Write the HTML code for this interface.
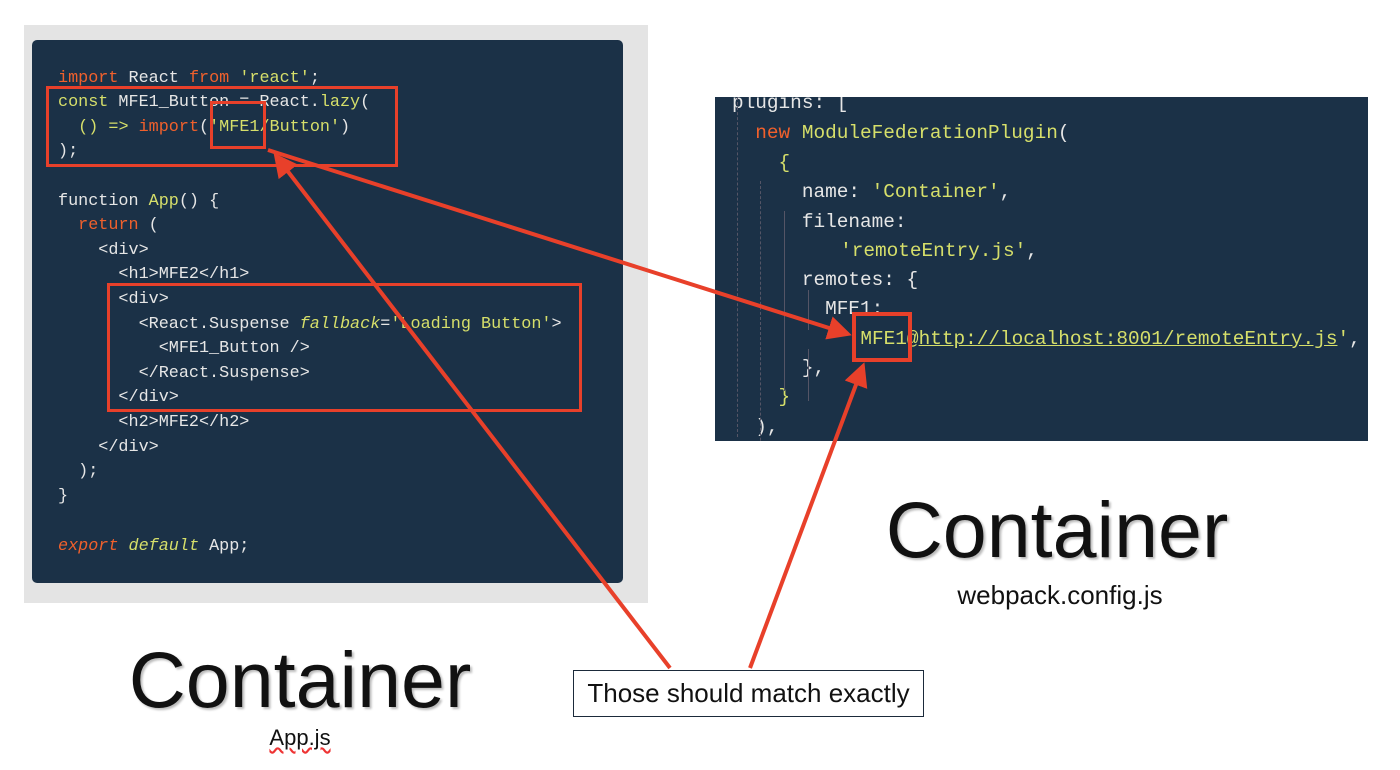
<!DOCTYPE html>
<html><head><meta charset="utf-8"><style>
body{margin:0;width:1400px;height:770px;background:#fff;position:relative;overflow:hidden;font-family:"Liberation Sans",sans-serif}
.code{position:absolute;font-family:"Liberation Mono",monospace;white-space:pre;color:#e6e6e6}
.code div{position:absolute;left:0}
.k{color:#f0602c}.s{color:#d6df6a}.i{font-style:italic;color:#d6df6a}.ik{font-style:italic;color:#f0602c}
.abs{position:absolute}
</style></head><body>
<div class="abs" style="left:24px;top:25px;width:624px;height:578px;background:#e4e4e4"></div>
<div class="abs" style="left:32px;top:40px;width:591px;height:543px;background:#1b3147;border-radius:5px"></div>
<div class="code" style="left:58px;top:2px;font-size:16.8px;line-height:20px">
<div style="top:67px"><span class="k">import</span> React <span class="k">from</span> <span class="s">'react'</span>;</div>
<div style="top:91px"><span class="s">const</span> MFE1_Button = React.<span class="s">lazy</span>(</div>
<div style="top:116px">  <span class="s">() =&gt;</span> <span class="k">import</span>(<span class="s">'MFE1/Button'</span>)</div>
<div style="top:140px">);</div>
<div style="top:190px">function <span class="s">App</span>() {</div>
<div style="top:214px">  <span class="k">return</span> (</div>
<div style="top:239px">    &lt;div&gt;</div>
<div style="top:263px">      &lt;h1&gt;MFE2&lt;/h1&gt;</div>
<div style="top:288px">      &lt;div&gt;</div>
<div style="top:313px">        &lt;React.Suspense <span class="i">fallback</span>=<span class="s">'Loading Button'</span>&gt;</div>
<div style="top:337px">          &lt;MFE1_Button /&gt;</div>
<div style="top:362px">        &lt;/React.Suspense&gt;</div>
<div style="top:386px">      &lt;/div&gt;</div>
<div style="top:411px">      &lt;h2&gt;MFE2&lt;/h2&gt;</div>
<div style="top:436px">    &lt;/div&gt;</div>
<div style="top:460px">  );</div>
<div style="top:485px">}</div>
<div style="top:535px"><span class="ik">export</span> <span class="i">default</span> App;</div>
</div>
<div class="abs" style="left:715px;top:97px;width:653px;height:344px;background:#1b3147;overflow:hidden">
<div class="code" style="left:17px;top:0;font-size:19.4px;line-height:24px">
<div style="top:-6px">plugins: [</div>
<div style="top:24px">  <span class="k">new</span> <span class="s">ModuleFederationPlugin</span>(</div>
<div style="top:54px">    <span class="s">{</span></div>
<div style="top:83px">      name: <span class="s">'Container'</span>,</div>
<div style="top:113px">      filename:</div>
<div style="top:142px;left:15px">        <span class="s">'remoteEntry.js'</span>,</div>
<div style="top:171px">      remotes: {</div>
<div style="top:200px">        MFE1:</div>
<div style="top:230px;left:12px">          <span class="s">MFE1@<span style="text-decoration:underline">http://localhost:8001/remoteEntry.js</span>'</span>,</div>
<div style="top:259px">      },</div>
<div style="top:288px">    <span class="s">}</span></div>
<div style="top:318px">  ),</div>
</div>
<div class="abs" style="left:22px;top:0;height:340px;border-left:1px dashed #556"></div>
<div class="abs" style="left:45px;top:84px;height:290px;border-left:1px dashed #556"></div>
<div class="abs" style="left:69px;top:114px;height:180px;border-left:1px solid #556"></div>
<div class="abs" style="left:93px;top:193px;height:40px;border-left:1px solid #556"></div>
<div class="abs" style="left:93px;top:252px;height:52px;border-left:1px solid #556"></div>
</div>
<div class="abs" style="left:46px;top:86px;width:346px;height:75px;border:3.5px solid #e8402a"></div>
<div class="abs" style="left:210px;top:101px;width:50px;height:42px;border:3.5px solid #e8402a"></div>
<div class="abs" style="left:107px;top:283px;width:469px;height:123px;border:3.5px solid #e8402a"></div>
<div class="abs" style="left:852px;top:312px;width:52px;height:42px;border:4px solid #e8402a"></div>
<svg class="abs" style="left:0;top:0" width="1400" height="770">
<defs><marker id="a" markerWidth="6" markerHeight="6" refX="5" refY="3" orient="auto" markerUnits="strokeWidth"><path d="M0,0L6,3L0,6z" fill="#e8402a"/></marker></defs>
<g stroke="#e8402a" stroke-width="4" fill="none">
<line x1="670" y1="668" x2="276" y2="156" marker-end="url(#a)"/>
<line x1="750" y1="668" x2="863" y2="366" marker-end="url(#a)"/>
<line x1="268" y1="150" x2="848" y2="334" marker-end="url(#a)"/>
</g>
</svg>
<div class="abs" style="left:100px;top:634px;width:400px;text-align:center;font-size:79px;color:#111;text-shadow:2px 2px 2px #bbb">Container</div>
<div class="abs" style="left:230px;top:725px;width:140px;text-align:center;font-size:22px;color:#111"><span style="text-decoration:underline wavy #e33">App.js</span></div>
<div class="abs" style="left:857px;top:484px;width:400px;text-align:center;font-size:79px;color:#111;text-shadow:2px 2px 2px #bbb">Container</div>
<div class="abs" style="left:910px;top:580px;width:300px;text-align:center;font-size:26px;color:#111">webpack.config.js</div>
<div class="abs" style="left:573px;top:670px;width:349px;height:45px;border:1.5px solid #1b2a3a;background:#fff;text-align:center;font-size:26px;line-height:45px;color:#111">Those should match exactly</div>
</body></html>
